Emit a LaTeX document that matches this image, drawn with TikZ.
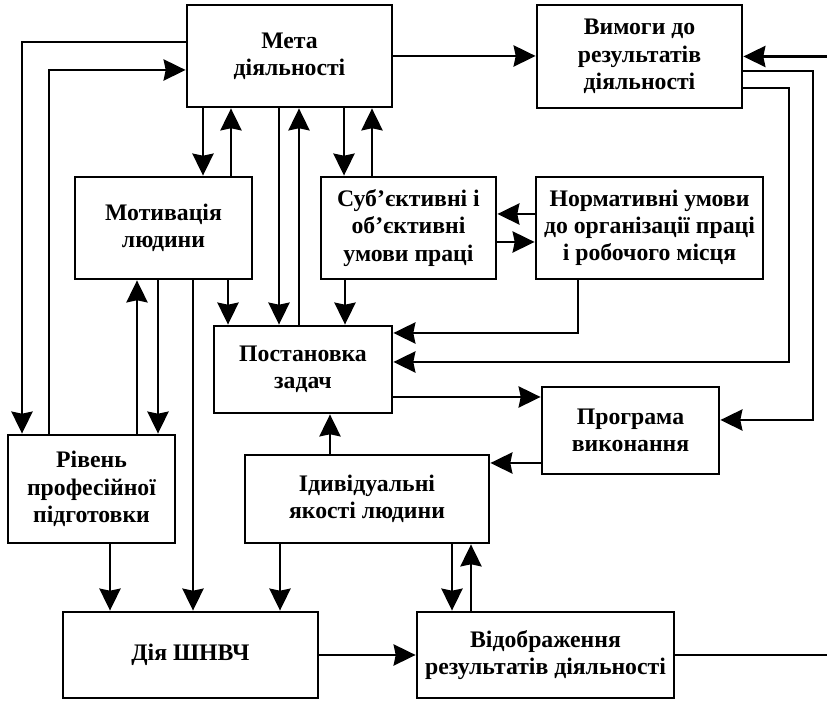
\documentclass[tikz,border=0pt]{standalone}
\usepackage{fontspec}
\setmainfont{Liberation Serif}
\usetikzlibrary{arrows.meta}

\tikzset{
  blok/.style={draw, line width=1.6pt, align=center, inner sep=2pt,
    font=\fontsize{13.5}{15.5}\selectfont\bfseries}
}

\begin{document}
\begin{tikzpicture}[>={Stealth[length=12.5pt, width=12pt, inset=1.2pt]}, line width=1.6pt]

  \useasboundingbox (0,0) rectangle (16.54,14.04);

  % ==========================================
  % БЛОКИ
  % ==========================================
  \node[blok, minimum width=4.1cm, minimum height=2.04cm] (meta) at (5.79,12.92) {Мета\\діяльності};
  \node[blok, minimum width=4.1cm, minimum height=2.06cm] (vymohy) at (12.79,12.91) {Вимоги до\\результатів\\діяльності};
  \node[blok, minimum width=3.54cm, minimum height=2.04cm] (motiv) at (3.27,9.48) {Мотивація\\людини};
  \node[blok, minimum width=3.5cm, minimum height=2.04cm] (sub) at (8.17,9.48) {Суб’єктивні і\\об’єктивні\\умови праці};
  \node[blok, minimum width=4.54cm, minimum height=2.04cm] (norm) at (12.99,9.48) {Нормативні умови\\до організації праці\\і робочого місця};
  \node[blok, minimum width=3.56cm, minimum height=1.74cm] (post) at (6.06,6.65) {Постановка\\задач};
  \node[blok, minimum width=3.54cm, minimum height=1.74cm] (prohrama) at (12.61,5.43) {Програма\\виконання};
  \node[blok, minimum width=3.34cm, minimum height=2.16cm] (riven) at (1.83,4.26) {Рівень\\професійної\\підготовки};
  \node[blok, minimum width=4.88cm, minimum height=1.76cm] (yakosti) at (7.34,4.06) {Ідивідуальні\\якості людини};
  \node[blok, minimum width=5.1cm, minimum height=1.72cm] (dia) at (3.81,0.94) {Дія ШНВЧ};
  \node[blok, minimum width=5.14cm, minimum height=1.72cm] (vidobr) at (10.91,0.94) {Відображення\\результатів діяльності};

  % ==========================================
  % ЗВ'ЯЗКИ ЗВЕРХУ
  % ==========================================
  % Мета <-> Рівень (обхід зліва)
  \draw[->] (meta.west |- 0,13.2) -- (0.44,13.2) -- (riven.north -| 0.44,0);
  \draw[->] (riven.north -| 0.98,0) -- (0.98,12.64) -- (meta.west |- 0,12.64);

  % Мета <-> Мотивація, Постановка, Суб'єктивні
  \draw[->] (meta.south -| 4.06,0) -- (motiv.north -| 4.06,0);
  \draw[->] (motiv.north -| 4.62,0) -- (meta.south -| 4.62,0);
  \draw[->] (meta.south -| 5.58,0) -- (post.north -| 5.58,0);
  \draw[->] (post.north -| 5.98,0) -- (meta.south -| 5.98,0);
  \draw[->] (meta.south -| 6.88,0) -- (sub.north -| 6.88,0);
  \draw[->] (sub.north -| 7.44,0) -- (meta.south -| 7.44,0);

  % Мета -> Вимоги, вхід справа
  \draw[->] (meta.east) -- (vymohy.west |- meta.east);
  \coordinate (vkhid) at (16.54,12.91);
  \draw[->] (vkhid) -- (vymohy.east |- vkhid);

  % Вимоги -> Програма, Постановка (обхід справа)
  \draw[->] (vymohy.east |- 0,12.62) -- (16.26,12.62) -- (16.26,5.64) -- (prohrama.east |- 0,5.64);
  \draw[->] (vymohy.east |- 0,12.28) -- (15.78,12.28) -- (15.78,6.8) -- (post.east |- 0,6.8);

  % ==========================================
  % СЕРЕДНІЙ РЯД
  % ==========================================
  \draw[->] (norm.south -| 11.56,0) -- (11.56,7.38) -- (post.east |- 0,7.38);
  \draw[->] (norm.west |- 0,9.76) -- (sub.east |- 0,9.76);
  \draw[->] (sub.east |- 0,9.2) -- (norm.west |- 0,9.2);
  \draw[->] (sub.south -| 6.9,0) -- (post.north -| 6.9,0);
  \draw[->] (motiv.south -| 4.56,0) -- (post.north -| 4.56,0);

  % Мотивація <-> Рівень, Мотивація -> Дія
  \draw[->] (motiv.south -| 3.16,0) -- (riven.north -| 3.16,0);
  \draw[->] (riven.north -| 2.74,0) -- (motiv.south -| 2.74,0);
  \draw[->] (motiv.south -| 3.86,0) -- (dia.north -| 3.86,0);

  % Постановка -> Програма -> Якості -> Постановка
  \draw[->] (post.east |- 0,6.1) -- (prohrama.west |- 0,6.1);
  \draw[->] (prohrama.west |- 0,4.78) -- (yakosti.east |- 0,4.78);
  \draw[->] (yakosti.north -| 6.6,0) -- (post.south -| 6.6,0);

  % ==========================================
  % НИЖНІЙ РЯД
  % ==========================================
  \draw[->] (riven.south -| 2.2,0) -- (dia.north -| 2.2,0);
  \draw[->] (yakosti.south -| 5.6,0) -- (dia.north -| 5.6,0);
  \draw[->] (yakosti.south -| 9.04,0) -- (vidobr.north -| 9.04,0);
  \draw[->] (vidobr.north -| 9.42,0) -- (yakosti.south -| 9.42,0);
  \draw[->] (dia.east) -- (vidobr.west);

  % Вихід справа
  \coordinate (vykhid) at (16.54,0.94);
  \draw (vidobr.east) -- (vykhid);

\end{tikzpicture}
\end{document}
